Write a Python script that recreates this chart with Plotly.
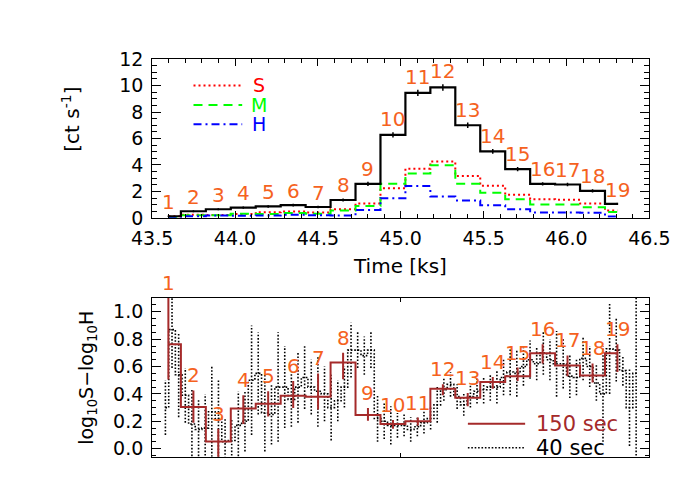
import plotly.graph_objects as go

# ---- data: 150 s light curve (top) ----
bin_id = [str(i) for i in range(1, 20)]
t150 = [43.598, 43.749, 43.899, 44.050, 44.200, 44.351, 44.501, 44.652, 44.802, 44.953,
        45.103, 45.254, 45.404, 45.555, 45.705, 45.856, 46.006, 46.157, 46.307]
rate_tot = [0.12, 0.50, 0.65, 0.77, 0.86, 0.96, 0.82, 1.35, 2.57, 6.28,
            9.45, 9.86, 7.00, 5.02, 3.68, 2.57, 2.52, 2.04, 1.06]
err_tot = [0.06, 0.08, 0.08, 0.09, 0.09, 0.10, 0.09, 0.12, 0.16, 0.20,
           0.24, 0.25, 0.21, 0.18, 0.16, 0.13, 0.13, 0.12, 0.09]
rate_s = [0.12, 0.24, 0.22, 0.30, 0.43, 0.48, 0.41, 0.65, 1.08, 2.24,
          3.72, 4.26, 3.17, 2.42, 1.75, 1.40, 1.37, 1.08, 0.55]
rate_m = [0.05, 0.19, 0.19, 0.31, 0.29, 0.36, 0.31, 0.55, 0.89, 2.57,
          3.36, 3.97, 2.57, 1.90, 1.40, 1.00, 1.00, 0.80, 0.45]
rate_h = [0.02, 0.12, 0.18, 0.15, 0.17, 0.24, 0.19, 0.17, 0.60, 1.49,
          2.40, 1.61, 1.32, 0.95, 0.65, 0.41, 0.40, 0.38, 0.10]

# ---- data: hardness ratio, 150 s bins (bottom) ----
hr150 = [0.763, 0.304, 0.053, 0.293, 0.328, 0.386, 0.380, 0.630, 0.246, 0.181,
         0.200, 0.437, 0.372, 0.488, 0.530, 0.698, 0.607, 0.535, 0.698]
hr150_lo = [0.506, 0.190, -0.120, 0.180, 0.235, 0.297, 0.286, 0.507, 0.204, 0.146,
            0.170, 0.390, 0.310, 0.437, 0.495, 0.623, 0.530, 0.483, 0.560]
hr150_hi = [1.130, 0.425, 0.146, 0.390, 0.420, 0.495, 0.550, 0.700, 0.297, 0.210,
            0.227, 0.470, 0.407, 0.523, 0.593, 0.763, 0.681, 0.623, 0.763]

# ---- data: hardness ratio, 40 s bins (bottom) ----
t40 = [43.58, 43.62, 43.66, 43.70, 43.74, 43.78, 43.82, 43.86, 43.90, 43.94,
       43.98, 44.02, 44.06, 44.10, 44.14, 44.18, 44.22, 44.26, 44.30, 44.34,
       44.38, 44.42, 44.46, 44.50, 44.54, 44.58, 44.62, 44.66, 44.70, 44.74,
       44.78, 44.82, 44.86, 44.90, 44.94, 44.98, 45.02, 45.06, 45.10, 45.14,
       45.18, 45.22, 45.26, 45.30, 45.34, 45.38, 45.42, 45.46, 45.50, 45.54,
       45.58, 45.62, 45.66, 45.70, 45.74, 45.78, 45.82, 45.86, 45.90, 45.94,
       45.98, 46.02, 46.06, 46.10, 46.14, 46.18, 46.22, 46.26, 46.30, 46.34,
       46.38, 46.42]
hr40 = [0.30, 0.87, 0.54, 0.39, 0.18, 0.14, 0.15, 0.27, 0.22, 0.05,
        0.06, 0.17, 0.20, 0.50, 0.55, 0.26, 0.25, 0.45, 0.45, 0.36,
        0.45, 0.52, 0.45, 0.42, 0.40, 0.30, 0.35, 0.45, 0.72, 0.72,
        0.68, 0.72, 0.22, 0.20, 0.17, 0.17, 0.17, 0.14, 0.16, 0.19,
        0.22, 0.32, 0.43, 0.47, 0.38, 0.32, 0.38, 0.42, 0.43, 0.45,
        0.45, 0.52, 0.56, 0.55, 0.60, 0.65, 0.62, 0.70, 0.65, 0.62,
        0.62, 0.53, 0.52, 0.66, 0.60, 0.48, 0.40, 0.73, 0.72, 0.57,
        0.30, 0.55]
hr40_err = [0.20, 0.28, 0.31, 0.20, 0.26, 0.22, 0.25, 0.33, 0.28, 0.17,
            0.16, 0.25, 0.22, 0.40, 0.30, 0.28, 0.22, 0.40, 0.30, 0.20,
            0.26, 0.23, 0.20, 0.26, 0.20, 0.24, 0.15, 0.15, 0.20, 0.13,
            0.14, 0.13, 0.17, 0.13, 0.14, 0.09, 0.08, 0.09, 0.07, 0.08,
            0.08, 0.13, 0.08, 0.09, 0.09, 0.08, 0.08, 0.09, 0.10, 0.10,
            0.12, 0.13, 0.17, 0.17, 0.14, 0.14, 0.12, 0.16, 0.15, 0.24,
            0.18, 0.16, 0.13, 0.16, 0.15, 0.13, 0.35, 0.33, 0.23, 0.11,
            0.28, 0.65]

FONT = "DejaVu Sans"
ORANGE = "#F5621E"
BROWN = "#A52A2A"
HR_TOP = 1.1
DOTS = "1.6px,1.8px"

fig = go.Figure()

# ---- top panel ----
fig.add_trace(go.Scatter(x=t150, y=rate_s, mode="lines", line_shape="hvh",
                         line=dict(color="red", width=2, dash="2px,3px"),
                         xaxis="x", yaxis="y"))
fig.add_trace(go.Scatter(x=t150, y=rate_m, mode="lines", line_shape="hvh",
                         line=dict(color="#00FF00", width=2, dash="9px,6px"),
                         xaxis="x", yaxis="y"))
fig.add_trace(go.Scatter(x=t150, y=rate_h, mode="lines", line_shape="hvh",
                         line=dict(color="blue", width=2, dash="8px,4px,2px,4px"),
                         xaxis="x", yaxis="y"))
fig.add_trace(go.Scatter(x=t150, y=rate_tot, mode="lines", line_shape="hvh",
                         line=dict(color="black", width=2.2),
                         error_y=dict(type="data", array=err_tot, color="black",
                                      thickness=1.5, width=0),
                         xaxis="x", yaxis="y"))

for lab, t, v, e in zip(bin_id, t150, rate_tot, err_tot):
    fig.add_annotation(x=t, y=v + e, xref="x", yref="y", text=lab, showarrow=False,
                       xanchor="center", yanchor="middle", yshift=13,
                       font=dict(family=FONT, size=20, color=ORANGE))

# ---- bottom panel: 40 s dotted data ----
seg_x, seg_y = [], []
for t, v, e in zip(t40, hr40, hr40_err):
    seg_x += [t, t, None]
    seg_y += [v - e, v + e, None]
fig.add_trace(go.Scatter(x=seg_x, y=seg_y, mode="lines",
                         line=dict(color="black", width=1.6, dash=DOTS),
                         xaxis="x2", yaxis="y2"))
fig.add_trace(go.Scatter(x=t40, y=hr40, mode="lines", line_shape="hvh",
                         line=dict(color="black", width=1.6, dash=DOTS),
                         xaxis="x2", yaxis="y2"))

# ---- bottom panel: 150 s ----
fig.add_trace(go.Scatter(x=t150, y=hr150, mode="lines", line_shape="hvh",
                         line=dict(color=BROWN, width=2),
                         error_y=dict(type="data", symmetric=False,
                                      array=[h - v for h, v in zip(hr150_hi, hr150)],
                                      arrayminus=[v - l for l, v in zip(hr150_lo, hr150)],
                                      color=BROWN, thickness=2, width=0),
                         xaxis="x2", yaxis="y2"))

for lab, t, h in zip(bin_id, t150, hr150_hi):
    fig.add_annotation(x=t, y=min(h, HR_TOP), xref="x2", yref="y2", text=lab,
                       showarrow=False, xanchor="center", yanchor="middle", yshift=15,
                       font=dict(family=FONT, size=20, color=ORANGE))

# ---- legends drawn by hand (IDL style) ----
for y, col, dash, name in [(0.861, "red", "2px,3px", "S"),
                           (0.820, "#00FF00", "9px,6px", "M"),
                           (0.780, "blue", "8px,4px,2px,4px", "H")]:
    fig.add_shape(type="line", xref="paper", yref="paper", x0=0.250, x1=0.324,
                  y0=y, y1=y, line=dict(color=col, width=2, dash=dash))
    fig.add_annotation(x=245 / 700, y=y, xref="paper", yref="paper", text=name,
                       xanchor="center", yanchor="middle", showarrow=False,
                       font=dict(family=FONT, size=19, color=col))

fig.add_shape(type="line", xref="paper", yref="paper", x0=0.667, x1=0.754,
              y0=0.153, y1=0.153, line=dict(color=BROWN, width=2))
fig.add_annotation(x=0.768, y=0.153, xref="paper", yref="paper", text="150 sec",
                   xanchor="left", yanchor="middle", showarrow=False,
                   font=dict(family=FONT, size=21, color=BROWN))
fig.add_shape(type="line", xref="paper", yref="paper", x0=0.667, x1=0.754,
              y0=0.103, y1=0.103, line=dict(color="black", width=1.6, dash=DOTS))
fig.add_annotation(x=0.768, y=0.103, xref="paper", yref="paper", text="40 sec",
                   xanchor="left", yanchor="middle", showarrow=False,
                   font=dict(family=FONT, size=21, color="black"))

# ---- axis titles ----
fig.add_annotation(x=45 / 700, y=0.79, xref="paper", yref="paper",
                   text="[ct s<sup>-1</sup>]", textangle=-90, showarrow=False,
                   xanchor="center", yanchor="middle",
                   font=dict(family=FONT, size=20, color="black"))
fig.add_annotation(x=62 / 700, y=0.25, xref="paper", yref="paper",
                   text="log<sub>10</sub>S\u2212log<sub>10</sub>H", textangle=-90,
                   xanchor="center", yanchor="middle", showarrow=False,
                   font=dict(family=FONT, size=19, color="black"))
fig.add_annotation(x=0.5636, y=1 - 258 / 500, xref="paper", yref="paper", text="Time [ks]",
                   xanchor="center", yanchor="middle", showarrow=False,
                   font=dict(family=FONT, size=20, color="black"))

axis_common = dict(showline=True, linecolor="black", linewidth=1, mirror="ticks",
                   ticks="inside", tickcolor="black", showgrid=False, zeroline=False,
                   tickfont=dict(family=FONT, size=19, color="black"))

XDOM = [131 / 700, 660 / 700]
fig.update_layout(
    width=700, height=500, showlegend=False,
    paper_bgcolor="white", plot_bgcolor="white",
    margin=dict(l=0, r=0, t=0, b=0),
    xaxis=dict(domain=XDOM, anchor="y", range=[43.5, 46.5], tick0=43.5, dtick=0.5,
               tickformat=".1f", ticklen=7, ticklabelstandoff=3,
               minor=dict(dtick=0.1, ticks="inside", ticklen=4, tickcolor="black"),
               **axis_common),
    yaxis=dict(domain=[1 - 208 / 500, 1 - 42 / 500], anchor="x", range=[0, 12], dtick=2,
               ticklen=9, ticklabelstandoff=4,
               minor=dict(dtick=0.5, ticks="inside", ticklen=5, tickcolor="black"),
               **axis_common),
    xaxis2=dict(domain=XDOM, anchor="y2", range=[43.5, 46.5], tickvals=[43.5, 45.0, 46.5],
                showticklabels=False, ticklen=4, **axis_common),
    yaxis2=dict(domain=[1 - 458 / 500, 1 - 291.7 / 500], anchor="x2",
                range=[-0.06, HR_TOP + 0.002], tick0=0, dtick=0.2, tickformat=".1f",
                ticklen=9, ticklabelstandoff=4,
                minor=dict(dtick=0.05, ticks="inside", ticklen=4, tickcolor="black"),
                **axis_common),
)

fig.write_html("out.html")
